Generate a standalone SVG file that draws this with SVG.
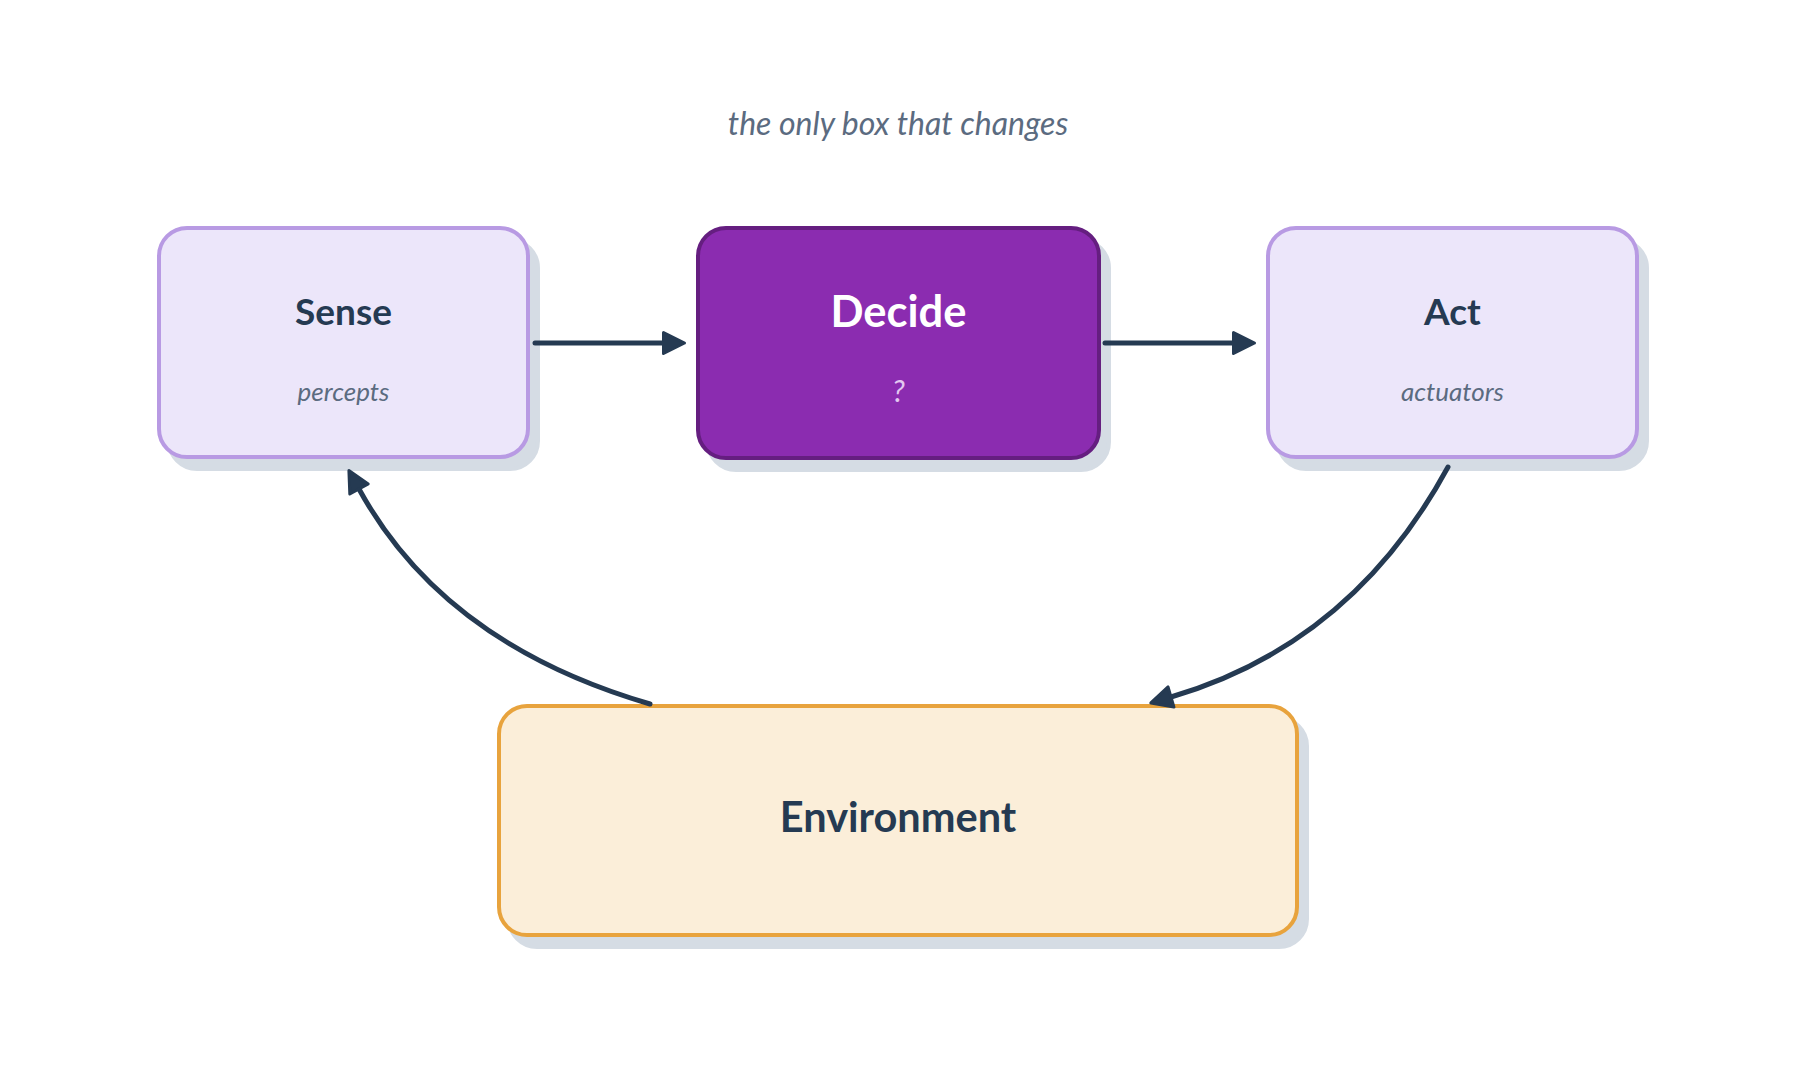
<svg xmlns="http://www.w3.org/2000/svg" width="1796" height="1088" viewBox="0 0 1796 1088">
<style>
.shadow{fill:#D5DCE4;stroke:#D5DCE4;stroke-width:4}
.lav{fill:#ECE6FA;stroke:#B89AE3;stroke-width:4}
.dec{fill:#8B2CB0;stroke:#651E80;stroke-width:4}
.env{fill:#FBEED9;stroke:#E8A33D;stroke-width:4}
.t{font-family:Lato,"Open Sans",sans-serif;font-weight:700;fill:#253A52;text-anchor:middle}
.s{font-family:Lato,"Open Sans",sans-serif;font-style:italic;fill:#5B6B80;text-anchor:middle}
.edge{fill:none;stroke:#253A52;stroke-width:5;stroke-linecap:round}
</style>
<defs>
<marker id="ah" markerUnits="userSpaceOnUse" markerWidth="32" markerHeight="32" viewBox="0 0 32 32" refX="4" refY="16" orient="auto">
<path d="M4,5.5 L25,16 L4,26.5 Z" fill="#253A52" stroke="#253A52" stroke-width="3" stroke-linejoin="round"/>
</marker>
</defs>
<rect width="1796" height="1088" fill="#FFFFFF"/>
<text class="s" x="898" y="135" font-size="32">the only box that changes</text>
<g id="sense">
<rect class="shadow" x="169" y="240" width="369" height="229" rx="28"/>
<rect class="lav" x="159" y="228" width="369" height="229" rx="28"/>
<text class="t" x="343.5" y="325" font-size="37">Sense</text>
<text class="s" x="343.5" y="401" font-size="26">percepts</text>
</g>
<g id="decide">
<rect class="shadow" x="708" y="240" width="401" height="230" rx="28"/>
<rect class="dec" x="698" y="228" width="401" height="230" rx="28"/>
<text class="t" x="898.5" y="327" font-size="43.5" style="fill:#FFFFFF">Decide</text>
<text class="s" x="898.5" y="402" font-size="30" style="fill:#E3C8F0">?</text>
</g>
<g id="act">
<rect class="shadow" x="1278" y="240" width="369" height="229" rx="28"/>
<rect class="lav" x="1268" y="228" width="369" height="229" rx="28"/>
<text class="t" x="1452.5" y="325" font-size="37">Act</text>
<text class="s" x="1452.5" y="401" font-size="26">actuators</text>
</g>
<g id="environment">
<rect class="shadow" x="509" y="718" width="798" height="229" rx="28"/>
<rect class="env" x="499" y="706" width="798" height="229" rx="28"/>
<text class="t" x="898" y="832" font-size="41.5">Environment</text>
</g>
<g id="connectors">
<path class="edge" d="M535,343 L663.5,343" marker-end="url(#ah)"/>
<path class="edge" d="M1105,343 L1233.5,343" marker-end="url(#ah)"/>
<path class="edge" d="M650,704 Q444,644 359,489" marker-end="url(#ah)"/>
<path class="edge" d="M1448,467 Q1352,644 1171,697" marker-end="url(#ah)"/>
</g>
</svg>
